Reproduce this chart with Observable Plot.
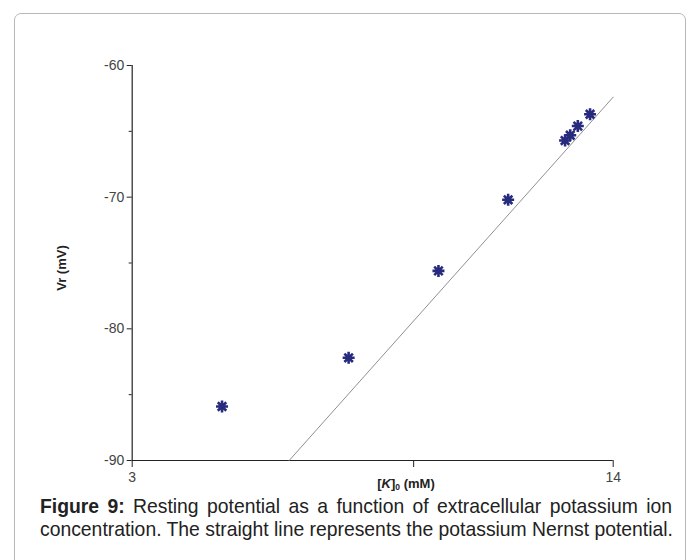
<!DOCTYPE html>
<html><head><meta charset="utf-8">
<script src="https://cdn.jsdelivr.net/npm/d3@7"></script>
<script src="https://cdn.jsdelivr.net/npm/@observablehq/plot@0.6"></script>
<style>
html,body{margin:0;padding:0;background:#fff;}
body{width:699px;height:560px;overflow:hidden;position:relative;font-family:"Liberation Sans",Arial,sans-serif;}
#card{position:absolute;left:14px;top:13px;width:672px;height:620px;border:1.5px solid #b8b8b8;border-radius:7px;box-sizing:border-box;}
#chart{position:absolute;left:0;top:0;}
#caption{position:absolute;left:40px;top:495px;width:632px;font-size:19.35px;line-height:23px;color:#222;}
#caption .l1{text-align:justify;text-align-last:justify;white-space:nowrap;}
#caption .l2{white-space:nowrap;}
</style></head><body>
<div id="card"></div>
<div id="chart"></div>
<div id="caption"><div class="l1"><b>Figure 9:</b> Resting potential as a function of extracellular potassium ion</div><div class="l2">concentration. The straight line represents the potassium Nernst potential.</div></div>
<script>
// measured resting potential vs extracellular K+
const potassium = [4.0, 6.0, 8.0, 10.0, 12.0, 12.2, 12.5, 13.0];
const restingV  = [-85.9, -82.2, -75.6, -70.2, -65.7, -65.3, -64.6, -63.7];
// Nernst line endpoints
const nernstK = [4.96, 14];
const nernstV = [-90, -62.4];
// ticks
const xTicks = [3, 7.389, 14];
const xTickLabels = ["3", "", "14"];
const yMajor = [-60, -70, -80, -90];
const yMinor = [-65, -75, -85];

const points = potassium.map((k, i) => ({k, v: restingV[i]}));
const nernst = nernstK.map((k, i) => ({k, v: nernstV[i]}));
const xLab = new Map(xTicks.map((t, i) => [t, xTickLabels[i]]));

const asterisk8 = {
  draw(ctx, size) {
    const r = Math.sqrt(size / Math.PI);
    for (let a = 0; a < 4; a++) {
      const t = a * Math.PI / 4;
      const c = Math.cos(t) * r, s = Math.sin(t) * r;
      ctx.moveTo(c, s); ctx.lineTo(-c, -s);
    }
  }
};

const ink = "#222";
const chart = Plot.plot({
  width: 699, height: 500,
  marginLeft: 131.7, marginRight: 86.3, marginTop: 65, marginBottom: 40,
  style: {fontFamily: "'Liberation Sans', Arial, sans-serif", background: "transparent", overflow: "visible"},
  x: {type: "log", domain: [3, 14]},
  y: {domain: [-90, -60]},
  marks: [
    Plot.ruleY([-90], {stroke: ink, strokeWidth: 1.2}),
    Plot.ruleX([3], {stroke: ink, strokeWidth: 1.2}),
    Plot.axisX(xTicks, {anchor: "bottom", tickSize: 7, tickPadding: 5, fontSize: 14, stroke: ink, fill: "#444", label: null, tickFormat: d => xLab.get(d)}),
    Plot.axisY(yMajor, {anchor: "left", tickSize: 5, tickPadding: 3, fontSize: 14, stroke: ink, fill: "#444", label: null, tickFormat: d => String(d)}),
    Plot.axisY(yMinor, {anchor: "left", tickSize: 3, stroke: ink, label: null, tickFormat: () => ""}),
    Plot.line(nernst, {x: "k", y: "v", stroke: "#909090", strokeWidth: 1}),
    Plot.dot(points, {x: "k", y: "v", symbol: asterisk8, r: 6, stroke: "#272b7e", strokeWidth: 2.6})
  ]
});
document.getElementById("chart").appendChild(chart);

const svg = d3.select(chart);
const xl = svg.append("text")
  .attr("x", 406).attr("y", 488)
  .attr("text-anchor", "middle")
  .attr("font-weight", "bold").attr("font-size", 13).attr("fill", "#222")
  .attr("font-family", "'Liberation Sans', Arial, sans-serif");
xl.append("tspan").text("[");
xl.append("tspan").attr("font-style", "italic").text("K");
xl.append("tspan").text("]");
xl.append("tspan").attr("font-size", 8.5).attr("dy", 2).text("0");
xl.append("tspan").attr("dy", -2).text(" (mM)");

svg.append("text")
  .attr("transform", "translate(61,268) rotate(-90)")
  .attr("text-anchor", "middle").attr("dy", "0.35em")
  .attr("font-weight", "bold").attr("font-size", 13).attr("fill", "#222")
  .attr("font-family", "'Liberation Sans', Arial, sans-serif")
  .text("Vr (mV)");
</script>
</body></html>
